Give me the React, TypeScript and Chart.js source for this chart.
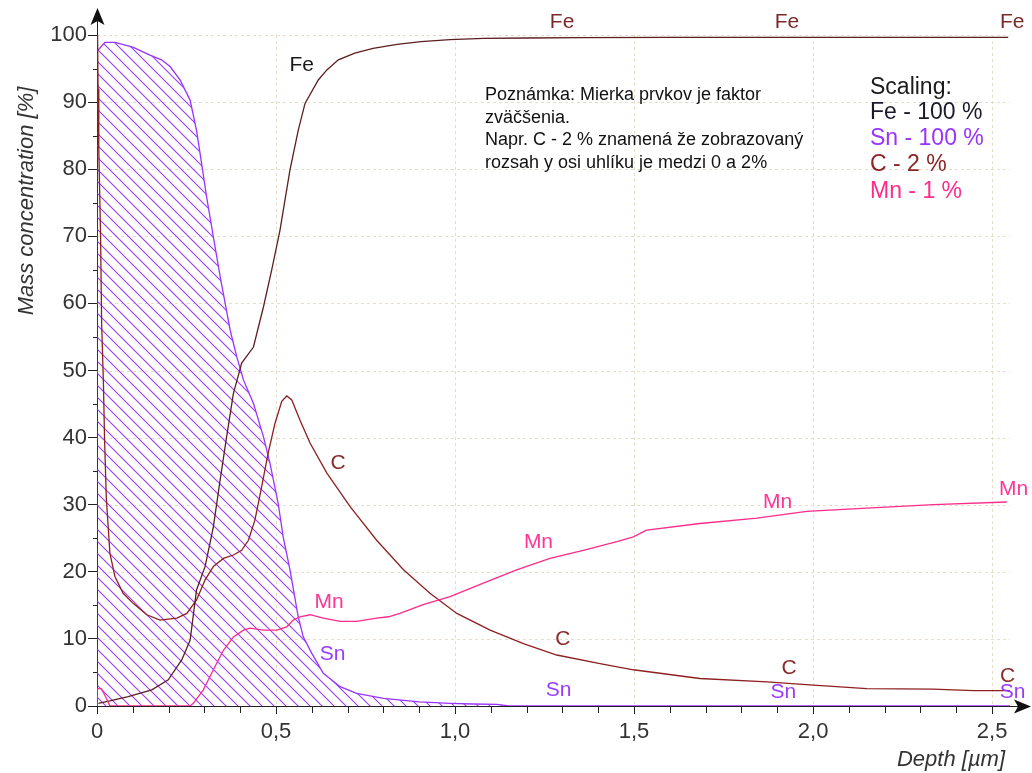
import React, { useEffect, useRef } from "react";
import { Chart, registerables } from "chart.js";

Chart.register(...registerables);

const X_MAX = 2.55;
const Y_MAX = 100;

// Sn (tin) profile
const snX = [0, 0.004, 0.022, 0.05, 0.1, 0.148, 0.18, 0.204, 0.232, 0.26, 0.278, 0.292, 0.306, 0.325, 0.344, 0.358, 0.372, 0.39, 0.409, 0.437, 0.465, 0.483, 0.506, 0.52, 0.539, 0.562, 0.576, 0.6, 0.632, 0.679, 0.725, 0.8, 0.9, 0.986, 1.05, 1.117, 1.15, 2.55];
const snY = [97.5, 97.8, 98.9, 98.9, 98.2, 97.0, 96.3, 95.3, 93.3, 90.3, 85.8, 80.9, 75.9, 69.9, 64.0, 60.0, 56.0, 52.1, 48.6, 45.1, 40.1, 36.2, 30.2, 25.2, 20.3, 13.3, 10.3, 7.85, 4.87, 2.88, 1.89, 1.15, 0.6, 0.4, 0.3, 0.25, 0, 0];

// Fe (iron) profile
const feX = [0.004, 0.036, 0.087, 0.153, 0.199, 0.237, 0.26, 0.278, 0.302, 0.325, 0.344, 0.362, 0.381, 0.399, 0.404, 0.437, 0.465, 0.488, 0.511, 0.539, 0.562, 0.581, 0.618, 0.642, 0.674, 0.72, 0.771, 0.838, 0.905, 0.986, 1.08, 1.2, 1.351, 1.6, 2.0, 2.3, 2.545];
const feY = [0.4, 0.75, 1.4, 2.4, 3.9, 6.9, 9.8, 17.3, 20.8, 26.7, 33.7, 40.1, 46.6, 50.1, 51.1, 53.5, 59.5, 65.0, 70.9, 79.9, 85.8, 89.8, 93.3, 94.8, 96.3, 97.3, 98.0, 98.6, 99.0, 99.3, 99.5, 99.55, 99.6, 99.65, 99.65, 99.65, 99.65];

// C (carbon) profile, scaled
const cX = [0, 0, 0.003, 0.005, 0.01, 0.013, 0.018, 0.021, 0.026, 0.036, 0.05, 0.073, 0.101, 0.139, 0.176, 0.223, 0.251, 0.278, 0.302, 0.325, 0.353, 0.381, 0.404, 0.423, 0.441, 0.46, 0.478, 0.497, 0.516, 0.53, 0.544, 0.567, 0.595, 0.642, 0.707, 0.781, 0.856, 0.93, 1.005, 1.098, 1.191, 1.284, 1.405, 1.498, 1.684, 1.871, 2.001, 2.15, 2.336, 2.448, 2.55];
const cY = [0, 110, 92, 83, 70, 57, 48, 40, 31, 22.8, 19.3, 16.8, 15.3, 13.6, 12.8, 13.1, 13.8, 15.8, 18.8, 20.8, 22.0, 22.5, 23.2, 24.7, 27.7, 32.7, 37.7, 42.1, 45.4, 46.2, 45.6, 42.6, 39.2, 34.7, 29.7, 24.7, 20.3, 16.8, 13.8, 11.3, 9.3, 7.6, 6.3, 5.4, 4.1, 3.6, 3.1, 2.6, 2.5, 2.3, 2.3];

// Mn (manganese) profile, scaled
const mnX = [0, 0, 0.012, 0.022, 0.036, 0.26, 0.269, 0.297, 0.325, 0.353, 0.381, 0.409, 0.427, 0.465, 0.502, 0.53, 0.548, 0.567, 0.595, 0.632, 0.679, 0.725, 0.781, 0.814, 0.846, 0.911, 0.986, 1.079, 1.172, 1.265, 1.358, 1.452, 1.498, 1.535, 1.684, 1.843, 1.982, 2.15, 2.336, 2.541];
const mnY = [0, 2.6, 2.6, 1.6, 0, 0, 0.4, 2.4, 5.4, 8.3, 10.3, 11.3, 11.6, 11.3, 11.3, 11.8, 12.8, 13.3, 13.6, 13.1, 12.6, 12.6, 13.1, 13.3, 13.8, 15.1, 16.3, 18.3, 20.3, 22.0, 23.2, 24.5, 25.2, 26.2, 27.2, 28.0, 29.0, 29.5, 30.0, 30.4];

// Curve label anchors (data units)
const feLabelX = [0.572, 1.299, 1.927, 2.556];
const feLabelY = [95.5, 101.9, 101.9, 101.9];
const cLabelX = [0.673, 1.301, 1.933, 2.543];
const cLabelY = [36.2, 9.9, 5.6, 4.5];
const mnLabelX = [0.648, 1.233, 1.901, 2.56];
const mnLabelY = [15.5, 24.4, 30.3, 32.3];
const snLabelX = [0.658, 1.289, 1.917, 2.557];
const snLabelY = [7.7, 2.3, 2.0, 2.0];

const minorYTicks = [5, 15, 25, 35, 45, 55, 65, 75, 85, 95];
const minorXTicks = [0.1, 0.2, 0.3, 0.4, 0.6, 0.7, 0.8, 0.9, 1.1, 1.2, 1.3, 1.4, 1.6, 1.7, 1.8, 1.9, 2.1, 2.2, 2.3, 2.4];

const noteLines = [
  "Poznámka: Mierka prvkov je faktor",
  "zväčšenia.",
  "Napr. C - 2 % znamená že zobrazovaný",
  "rozsah y osi uhlíku je medzi 0 a 2%",
];
const scalingLines = ["Scaling:", "Fe - 100 %", "Sn - 100 %", "C - 2 %", "Mn - 1 %"];

const FONT = "'Liberation Sans', Arial, sans-serif";
const COL_FE = "#5c1f1f";
const COL_C = "#8e2020";
const COL_MN = "#ff2b8a";
const COL_SN = "#9933ff";
const GRID = "#e6dfc6";

const pts = (xs: number[], ys: number[]) => xs.map((x, i) => ({ x, y: ys[i] }));

function makeHatch(): CanvasPattern | string {
  const w = 12, h = 12;
  const c = document.createElement("canvas");
  c.width = w; c.height = h;
  const g = c.getContext("2d");
  if (!g) return "rgba(153,51,255,0.3)";
  g.strokeStyle = "#9b3cff";
  g.lineWidth = 1.1;
  g.beginPath();
  g.moveTo(-1, -1); g.lineTo(w + 1, h + 1);
  g.moveTo(-1, h - 1); g.lineTo(1, h + 1);
  g.moveTo(w - 1, -1); g.lineTo(w + 1, 1);
  g.stroke();
  const p = g.createPattern(c, "repeat");
  return p || "rgba(153,51,255,0.3)";
}

const decor = {
  id: "decor",
  beforeDatasetsDraw(chart: any) {
    const { ctx, chartArea: a, scales } = chart;
    const x = scales.x, y = scales.y;
    ctx.save();
    ctx.strokeStyle = GRID;
    ctx.lineWidth = 1;
    ctx.setLineDash([3, 3]);
    ctx.beginPath();
    y.ticks.forEach((t: any) => {
      if (t.value === 0) return;
      const py = Math.round(y.getPixelForValue(t.value)) + 0.5;
      ctx.moveTo(a.left, py); ctx.lineTo(a.right, py);
    });
    x.ticks.forEach((t: any) => {
      if (t.value === 0) return;
      const px = Math.round(x.getPixelForValue(t.value)) + 0.5;
      ctx.moveTo(px, a.top); ctx.lineTo(px, a.bottom);
    });
    ctx.stroke();
    ctx.restore();
  },
  afterDraw(chart: any) {
    const { ctx, chartArea: a, scales } = chart;
    const x = scales.x, y = scales.y;
    ctx.save();
    // minor ticks
    ctx.strokeStyle = "#222";
    ctx.lineWidth = 1;
    ctx.beginPath();
    minorYTicks.forEach((v) => {
      const py = Math.round(y.getPixelForValue(v)) + 0.5;
      ctx.moveTo(a.left - 4, py); ctx.lineTo(a.left, py);
    });
    minorXTicks.forEach((v) => {
      const px = Math.round(x.getPixelForValue(v)) + 0.5;
      ctx.moveTo(px, a.bottom); ctx.lineTo(px, a.bottom + 7);
    });
    // axis extensions
    const ax = Math.round(a.left) + 0.5;
    const ay = Math.round(a.bottom) + 0.5;
    ctx.moveTo(ax, a.top); ctx.lineTo(ax, 14);
    ctx.moveTo(a.right, ay); ctx.lineTo(1022, ay);
    ctx.stroke();
    // arrowheads
    ctx.fillStyle = "#111";
    ctx.beginPath();
    ctx.moveTo(ax, 8); ctx.lineTo(ax - 7, 25); ctx.lineTo(ax, 21); ctx.lineTo(ax + 7, 25); ctx.closePath();
    ctx.fill();
    ctx.beginPath();
    ctx.moveTo(1031, ay); ctx.lineTo(1014, ay - 7); ctx.lineTo(1018, ay); ctx.lineTo(1014, ay + 7); ctx.closePath();
    ctx.fill();

    // axis titles
    ctx.fillStyle = "#333";
    ctx.font = `italic 22px ${FONT}`;
    ctx.textBaseline = "middle";
    ctx.textAlign = "center";
    ctx.save();
    ctx.translate(27, 201);
    ctx.rotate(-Math.PI / 2);
    ctx.fillText("Mass concentration [%]", 0, 0);
    ctx.restore();
    ctx.textAlign = "right";
    ctx.fillText("Depth [µm]", 1005, 760);

    // curve labels
    ctx.font = `21px ${FONT}`;
    ctx.textAlign = "center";
    const drawSet = (xs: number[], ys: number[], color: (i: number) => string, text: string) => {
      xs.forEach((v, i) => {
        ctx.fillStyle = color(i);
        ctx.fillText(text, x.getPixelForValue(v), y.getPixelForValue(ys[i]));
      });
    };
    drawSet(feLabelX, feLabelY, (i) => (i === 0 ? "#1a1a1a" : "#7b2a2a"), "Fe");
    drawSet(cLabelX, cLabelY, () => "#8b2a2a", "C");
    drawSet(mnLabelX, mnLabelY, () => "#ff3596", "Mn");
    drawSet(snLabelX, snLabelY, () => "#9a3cff", "Sn");

    // note
    ctx.textAlign = "left";
    ctx.fillStyle = "#111";
    ctx.font = `18px ${FONT}`;
    noteLines.forEach((t, i) => ctx.fillText(t, 485, 95 + i * 22.7));

    // scaling legend
    ctx.font = `23px ${FONT}`;
    const scColors = ["#1a1a1a", "#1a1a2a", "#9933ff", "#8b2525", "#ff2b8a"];
    const scY = [88, 113, 139, 165, 192];
    scalingLines.forEach((t, i) => {
      ctx.fillStyle = scColors[i];
      ctx.fillText(t, 870, scY[i]);
    });
    ctx.restore();
  },
};

export default function App() {
  const ref = useRef<HTMLCanvasElement>(null);
  useEffect(() => {
    const canvas = ref.current;
    if (!canvas) return;
    const hatch = makeHatch();
    const lineDs = (label: string, xs: number[], ys: number[], color: string) => ({
      label,
      data: pts(xs, ys),
      borderColor: color,
      borderWidth: 1.3,
      pointRadius: 0,
      tension: 0,
      fill: false,
    });
    const chart = new Chart(canvas, {
      type: "line",
      data: {
        datasets: [
          lineDs("Mn", mnX, mnY, COL_MN),
          lineDs("Fe", feX, feY, COL_FE),
          lineDs("C", cX, cY, COL_C),
          {
            label: "Sn",
            data: pts(snX, snY),
            borderColor: COL_SN,
            borderWidth: 1.3,
            pointRadius: 0,
            tension: 0,
            fill: "origin",
            backgroundColor: hatch as any,
          },
        ],
      },
      options: {
        responsive: false,
        animation: false,
        layout: { padding: { top: 35, right: 22, left: 0, bottom: 0 } },
        plugins: { legend: { display: false }, tooltip: { enabled: false } },
        scales: {
          x: {
            type: "linear",
            min: 0,
            max: X_MAX,
            afterFit: (s: any) => { s.height = 67; },
            border: { display: true, color: "#222", width: 1 },
            grid: { drawOnChartArea: false, drawTicks: true, tickLength: 8, tickColor: "#222", tickWidth: 1 },
            ticks: {
              stepSize: 0.5,
              includeBounds: false,
              autoSkip: false,
              maxRotation: 0,
              padding: 5,
              color: "#333",
              font: { family: FONT, size: 22 },
              callback: (v: any) => (Number(v) === 0 ? "0" : Number(v).toFixed(1).replace(".", ",")),
            },
          },
          y: {
            type: "linear",
            min: 0,
            max: Y_MAX,
            afterFit: (s: any) => { s.width = 97; },
            border: { display: true, color: "#222", width: 1 },
            grid: { drawOnChartArea: false, drawTicks: true, tickLength: 9, tickColor: "#222", tickWidth: 1 },
            ticks: {
              stepSize: 10,
              padding: 1,
              color: "#333",
              font: { family: FONT, size: 22 },
              callback: (v: any) => String(v),
            },
          },
        },
      },
      plugins: [decor],
    });
    return () => chart.destroy();
  }, []);
  return (
    <div style={{ position: "absolute", left: 0, top: 0, width: 1032, height: 773, background: "#fff" }}>
      <canvas ref={ref} width={1032} height={773} style={{ display: "block", width: 1032, height: 773 }} />
    </div>
  );
}
